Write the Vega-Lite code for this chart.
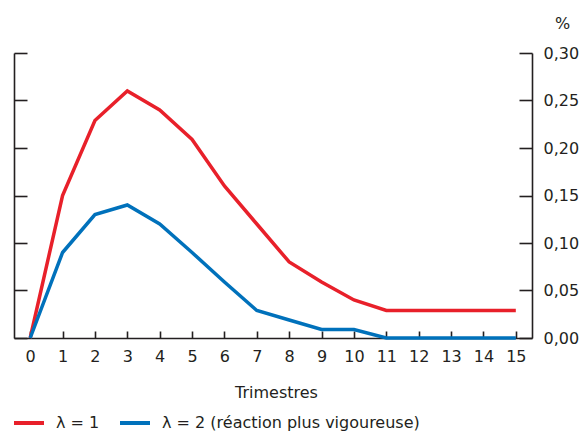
{
  "$schema": "https://vega.github.io/schema/vega-lite/v6.json",
  "width": 518,
  "height": 285,
  "autosize": {"type": "none"},
  "padding": {"left": 14, "top": 53, "right": 50, "bottom": 94},
  "background": "white",
  "config": {
    "view": {"stroke": null},
    "font": "DejaVu Sans",
    "axis": {"domainColor": "#231f20", "tickColor": "#231f20", "labelColor": "#231f20", "titleColor": "#231f20", "domainWidth": 1.6, "tickWidth": 1.6, "grid": false, "labelFontSize": 16, "titleFontSize": 16, "titleFontWeight": "normal"}
  },
  "data": {
    "values": [
      {"t": 0, "v": 0.0, "s": "λ = 1"},
      {"t": 1, "v": 0.15, "s": "λ = 1"},
      {"t": 2, "v": 0.229, "s": "λ = 1"},
      {"t": 3, "v": 0.26, "s": "λ = 1"},
      {"t": 4, "v": 0.24, "s": "λ = 1"},
      {"t": 5, "v": 0.209, "s": "λ = 1"},
      {"t": 6, "v": 0.16, "s": "λ = 1"},
      {"t": 7, "v": 0.12, "s": "λ = 1"},
      {"t": 8, "v": 0.08, "s": "λ = 1"},
      {"t": 9, "v": 0.059, "s": "λ = 1"},
      {"t": 10, "v": 0.04, "s": "λ = 1"},
      {"t": 11, "v": 0.029, "s": "λ = 1"},
      {"t": 12, "v": 0.029, "s": "λ = 1"},
      {"t": 13, "v": 0.029, "s": "λ = 1"},
      {"t": 14, "v": 0.029, "s": "λ = 1"},
      {"t": 15, "v": 0.029, "s": "λ = 1"},
      {"t": 0, "v": 0.0, "s": "λ = 2 (réaction plus vigoureuse)"},
      {"t": 1, "v": 0.09, "s": "λ = 2 (réaction plus vigoureuse)"},
      {"t": 2, "v": 0.13, "s": "λ = 2 (réaction plus vigoureuse)"},
      {"t": 3, "v": 0.14, "s": "λ = 2 (réaction plus vigoureuse)"},
      {"t": 4, "v": 0.12, "s": "λ = 2 (réaction plus vigoureuse)"},
      {"t": 5, "v": 0.09, "s": "λ = 2 (réaction plus vigoureuse)"},
      {"t": 6, "v": 0.059, "s": "λ = 2 (réaction plus vigoureuse)"},
      {"t": 7, "v": 0.029, "s": "λ = 2 (réaction plus vigoureuse)"},
      {"t": 8, "v": 0.019, "s": "λ = 2 (réaction plus vigoureuse)"},
      {"t": 9, "v": 0.009, "s": "λ = 2 (réaction plus vigoureuse)"},
      {"t": 10, "v": 0.009, "s": "λ = 2 (réaction plus vigoureuse)"},
      {"t": 11, "v": 0.0, "s": "λ = 2 (réaction plus vigoureuse)"},
      {"t": 12, "v": 0.0, "s": "λ = 2 (réaction plus vigoureuse)"},
      {"t": 13, "v": 0.0, "s": "λ = 2 (réaction plus vigoureuse)"},
      {"t": 14, "v": 0.0, "s": "λ = 2 (réaction plus vigoureuse)"},
      {"t": 15, "v": 0.0, "s": "λ = 2 (réaction plus vigoureuse)"}
    ]
  },
  "layer": [
    {
      "mark": {"type": "line", "strokeWidth": 3.5, "strokeJoin": "miter", "clip": false},
      "encoding": {
        "x": {
          "field": "t", "type": "quantitative",
          "scale": {"domain": [-0.5, 15.5], "nice": false, "zero": false},
          "axis": {"orient": "bottom", "values": [0,1,2,3,4,5,6,7,8,9,10,11,12,13,14,15], "domain": false, "tickSize": 7, "offset": -7, "labelPadding": 10, "labelFlush": false, "title": "Trimestres", "titleX": 262, "titleY": 66, "titleBaseline": "alphabetic", "titleAlign": "center"}
        },
        "y": {
          "field": "v", "type": "quantitative",
          "scale": {"domain": [0, 0.3], "nice": false},
          "axis": {"orient": "right", "values": [0, 0.05, 0.1, 0.15, 0.2, 0.25, 0.3], "domain": false, "tickSize": 13, "offset": -13, "labelPadding": 11, "labelBaseline": "middle", "labelExpr": "replace(format(datum.value, '.2f'), '.', ',')", "title": "%", "titleAngle": 0, "titleX": 43, "titleY": -30, "titleAlign": "center", "titleBaseline": "middle"}
        },
        "color": {
          "field": "s", "type": "nominal",
          "scale": {"domain": ["λ = 1", "λ = 2 (réaction plus vigoureuse)"], "range": ["#e8202a", "#0071bb"]},
          "legend": {"title": null, "orient": "none", "direction": "horizontal", "legendX": -2, "legendY": 353, "padding": 0, "symbolType": "stroke", "symbolStrokeWidth": 4, "symbolSize": 900, "labelFontSize": 16, "labelFont": "DejaVu Sans", "labelColor": "#231f20", "labelLimit": 500, "columnPadding": 12, "labelOffset": 10}
        }
      }
    },
    {
      "mark": {"type": "point", "opacity": 0},
      "encoding": {
        "x": {"datum": 0, "type": "quantitative", "axis": {"orient": "bottom", "ticks": false, "labels": false, "title": null, "domain": true}},
        "y": {"datum": 0, "type": "quantitative", "axis": {"orient": "left", "values": [0, 0.05, 0.1, 0.15, 0.2, 0.25, 0.3], "domain": false, "tickSize": 13, "offset": -13, "labels": false, "title": null}}
      }
    },
    {
      "mark": {"type": "point", "opacity": 0},
      "encoding": {
        "y": {"datum": 0, "type": "quantitative", "axis": {"orient": "left", "ticks": false, "labels": false, "title": null, "domain": true}}
      }
    },
    {
      "mark": {"type": "point", "opacity": 0},
      "encoding": {
        "y": {"datum": 0, "type": "quantitative", "axis": {"orient": "right", "ticks": false, "labels": false, "title": null, "domain": true}}
      }
    }
  ],
  "resolve": {"axis": {"x": "independent", "y": "independent"}}
}
